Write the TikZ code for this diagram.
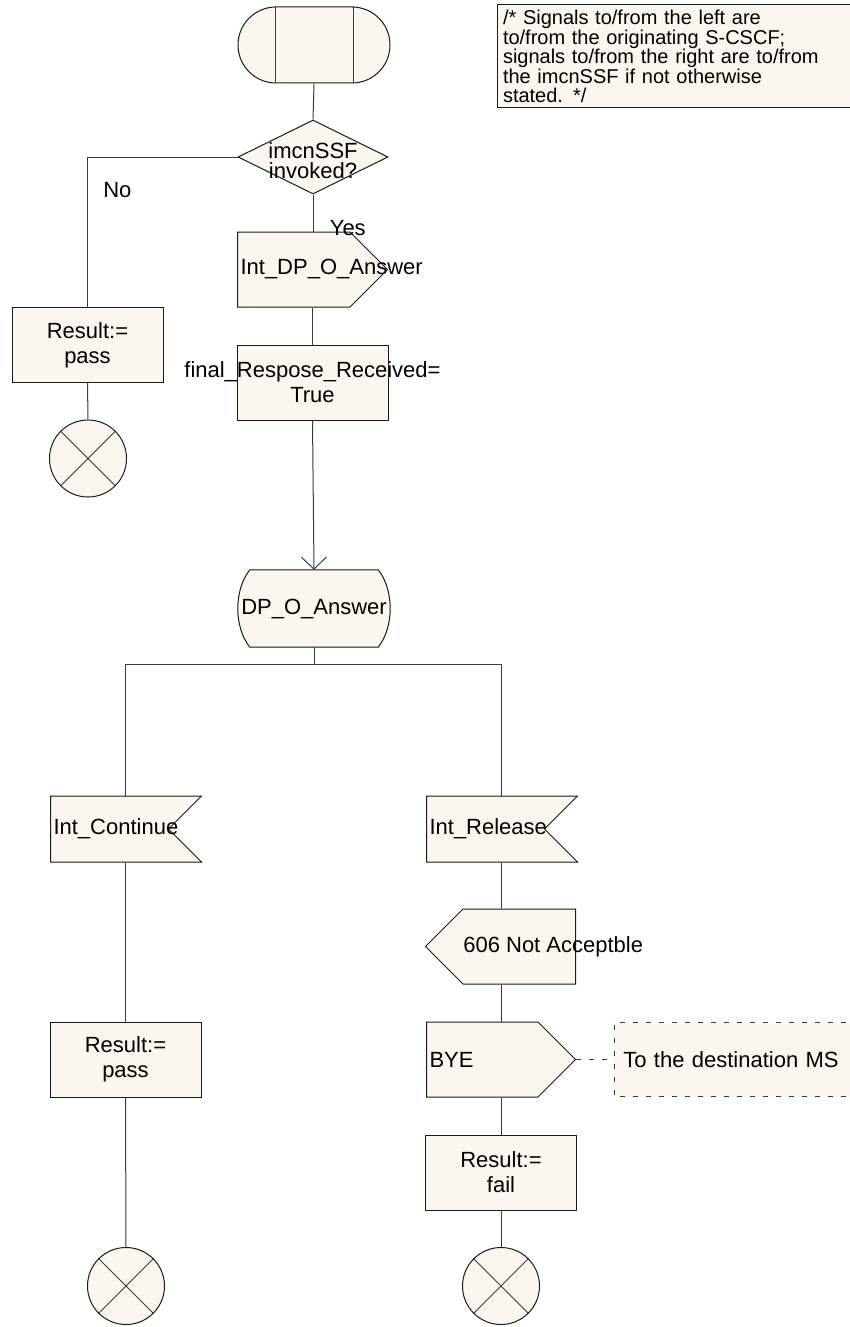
\documentclass[tikz,border=0pt]{standalone}
\usepackage{fontspec}
\setsansfont{Liberation Sans}
\usetikzlibrary{positioning, arrows.meta, shapes.geometric, shapes.symbols, backgrounds}
\definecolor{clrfill}{HTML}{FDF6EF}
\definecolor{clrborder}{HTML}{1A1A1A}
\definecolor{clrline}{HTML}{3A3A3A}
\definecolor{clrtext}{HTML}{000000}

\begin{document}
\begin{tikzpicture}[
    x=1pt, y=-1pt,
    every node/.style={font=\sffamily\fontsize{22}{25}\selectfont, text=clrtext},
    box/.style={draw=clrborder, fill=clrfill, line width=1pt, minimum width=151pt,
                minimum height=75pt, inner sep=0pt, align=center},
    sigout/.style={box, signal, signal from=nowhere, signal pointer angle=90},
    sigin/.style={box, signal, signal to=nowhere, signal from=east,
                  signal pointer angle=90, minimum height=66pt},
    stopsym/.style={draw=clrborder, fill=clrfill, line width=1pt, circle,
                    minimum size=77pt, inner sep=0pt},
    wire/.style={draw=clrline, line width=1pt},
    arrow/.style={wire, -{Straight Barb[length=12pt, width=25pt]}},
    dashwire/.style={wire, dash pattern=on 5pt off 8pt},
    lbl/.style={font=\sffamily\fontsize{22}{25}\selectfont, text=clrtext, align=center},
    cmt/.style={font=\sffamily\fontsize{20}{19.5}\selectfont, text=clrtext},
]
\useasboundingbox (0,0) rectangle (850,1327);
% comment, top right
\node[draw=clrborder, fill=clrfill, line width=1pt, cmt, text width=371pt, align=left,
      inner xsep=6pt, minimum height=103pt] (n_0) at (688.5,56.5)
     {/* Signals to/from the left are\\to/from the originating S-CSCF;\\signals to/from the right are to/from\\the imcnSSF if not otherwise\\stated. */};
% start and decision
\node[box, rounded corners=38pt, minimum width=152pt, minimum height=76pt] (n_1) at (314,45) {};
\node[box, diamond, minimum width=150pt, minimum height=74pt,
      label={[lbl, yshift=-4pt, font=\sffamily\fontsize{22}{20}\selectfont]center:imcnSSF\\invoked?}] (n_2) at (313,157) {};
\node[sigout, signal to=east, minimum width=150pt, anchor=west,
      label={[lbl, anchor=west]west:Int\_DP\_O\_Answer}] (n_3) at (237,269.5) {};
\node[box] (n_4) at (87.5,345) {Result:=\\pass};
\node[stopsym] (n_5) at (88,458.5) {};
\node[box, label={[lbl]center:final\_Respose\_Received=\\True}] (n_6) at (312.5,382.5) {};
\node[inner sep=0pt, minimum width=152pt, minimum height=77pt] (n_7) at (314,608.5) {DP\_O\_Answer};
% branches
\coordinate[below=17pt of n_7.south] (br);
\node[sigin, anchor=west, label={[lbl, anchor=west]west:Int\_Continue}] (n_8) at (50,829) {};
\node[sigin, anchor=west, label={[lbl, anchor=west]west:Int\_Release}] (n_9) at (426,829) {};
\node[sigout, signal to=west, minimum width=150pt, anchor=east,
      label={[lbl, anchor=west, xshift=35pt]west:606 Not Acceptble}] (n_10) at (576,946.5) {};
\node[sigout, signal to=east, minimum width=149pt, anchor=west,
      label={[lbl, anchor=west]west:BYE}] (n_11) at (426,1059.5) {};
\node[fill=clrfill, inner xsep=9pt, inner ysep=0pt, text width=252pt, align=left,
      minimum height=74pt, right=38pt of n_11] (n_12) {To the destination MS};
\node[box] (n_13) at (501,1172.5) {Result:=\\fail};
\node[stopsym] (n_16) at (501,1286) {};
\node[box] (n_14) at (125.5,1059.5) {Result:=\\pass};
\node[stopsym] (n_15) at (126,1286) {};
% start symbol inner lines
\draw[wire] ([xshift=37.5pt]n_1.north west) -- ([xshift=37.5pt]n_1.south west);
\draw[wire] ([xshift=-37.5pt]n_1.north east) -- ([xshift=-37.5pt]n_1.south east);
% stop crosses
\foreach \s in {n_5, n_15, n_16} {
    \draw[wire] (\s.north west) -- (\s.south east);
    \draw[wire] (\s.north east) -- (\s.south west);
}
% connectors
\draw[wire] (n_1.south) -- (n_2.north);
\draw[wire] (n_2.west) -| node[pos=0.61, anchor=west, xshift=12pt] (lbl_no) {No} (n_4.north);
\draw[wire] (n_2.south) -- node[pos=0.9, anchor=west, xshift=13pt] (lbl_yes) {Yes} (n_2.south |- n_3.north);
\draw[wire] (n_3.south -| n_6.north) -- (n_6.north);
\draw[wire] (n_4.south) -- (n_5.north);
\draw[arrow] (n_6.south) -- (n_7.north);
\draw[wire] (n_7.south) -- (br);
\draw[wire] (br) -| (n_8.north -| n_14.north);
\draw[wire] (br) -| (n_9.north -| n_13.north);
\draw[wire] (n_8.south -| n_14.north) -- (n_14.north);
\draw[wire] (n_14.south) -- (n_15.north);
\draw[wire] (n_9.south -| n_13.north) -- (n_10.north -| n_13.north);
\draw[wire] (n_10.south -| n_13.north) -- (n_11.north -| n_13.north);
\draw[wire] (n_11.south -| n_13.north) -- (n_13.north);
\draw[wire] (n_13.south) -- (n_16.north);
\draw[dashwire] (n_11.east) -- (n_12.west);
\draw[dashwire] (n_12.north east) -- (n_12.north west) -- (n_12.south west) -- (n_12.south east);
% backdrop and the DP_O_Answer outline
\begin{pgfonlayer}{background}
\fill[white] (0,0) rectangle (850,1327);
\draw[wire, draw=clrborder, fill=clrfill]
    ([xshift=12pt]n_7.north west) -- ([xshift=-12pt]n_7.north east)
    .. controls ([xshift=4pt,yshift=-20pt]n_7.north east) and ([xshift=4pt,yshift=20pt]n_7.south east) .. ([xshift=-12pt]n_7.south east)
    -- ([xshift=12pt]n_7.south west)
    .. controls ([xshift=-4pt,yshift=20pt]n_7.south west) and ([xshift=-4pt,yshift=-20pt]n_7.north west) .. cycle;
\end{pgfonlayer}
\end{tikzpicture}
\end{document}
